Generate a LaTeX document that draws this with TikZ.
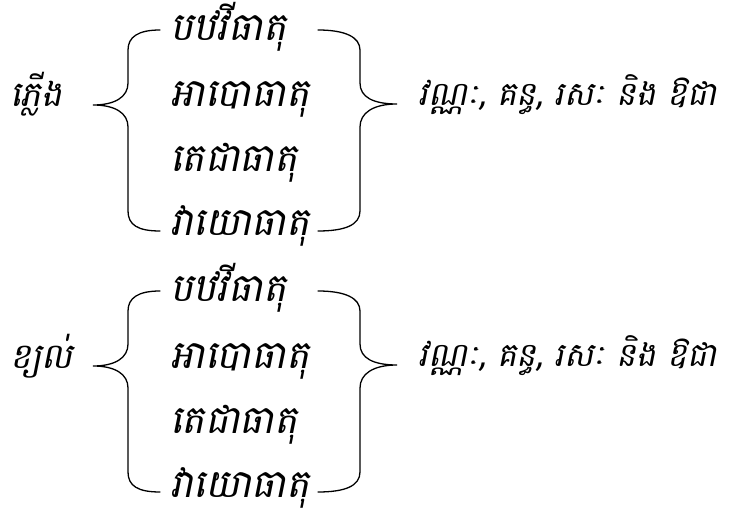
\documentclass[tikz,border=0pt]{standalone}
\usepackage{fontspec}
\newfontfamily\khmerfont[Script=Khmer,FakeSlant=0.2]{Battambang}
\usetikzlibrary{calc}

\begin{document}
\begin{tikzpicture}[x=1pt,y=1pt,font=\khmerfont\fontsize{35}{40}\selectfont]
  \tikzset{
    item/.style={inner sep=0pt,anchor=base west},
    element/.style={item,font=\khmerfont\fontsize{39}{44}\selectfont},
    quality/.style={item,font=\khmerfont\fontsize{33}{38}\selectfont},
    brace/.style={line width=1.3pt,line cap=round}
  }
  \useasboundingbox (0,0) rectangle (736,517);

  % one group: #1 = height of the brace tips, #2 = name prefix, #3 = element
  \newcommand{\elementgroup}[3]{%
    \node[item] (#2-lab) at (10,#1-2) {#3};
    \foreach \txt/\k/\dy in {បឋវីធាតុ/1/64,អាបោធាតុ/2/-2,
      តេជាធាតុ/3/-67,វាយោធាតុ/4/-131}{
      \node[element] (#2-\k) at (170,#1+\dy) {\txt};
    }
    \coordinate (#2-ltip) at (93,#1);
    \coordinate (#2-rtip) at (397,#1+1);
    \draw[brace] (160,#1+75) .. controls ++(-22,0) and ++(0,13) ..
      (128,#1+55) -- (128,#1+22) .. controls ++(0,-14) and ++(22,0) .. (#2-ltip)
      .. controls ++(22,0) and ++(0,14) .. (128,#1-22) -- (128,#1-106)
      .. controls ++(0,-14) and ++(-22,0) .. (160,#1-126);
    \draw[brace] (318,#1+75) .. controls ++(27,0) and ++(0,13) ..
      (360,#1+55) -- (360,#1+22) .. controls ++(0,-14) and ++(-24,0) .. (#2-rtip)
      .. controls ++(-24,0) and ++(0,14) .. (360,#1-22) -- (360,#1-106)
      .. controls ++(0,-14) and ++(27,0) .. (318,#1-126);
    \node[quality] (#2-quals) at (418,#1-1) {វណ្ណៈ, គន្ធ, រសៈ និង ឱជា};
  }

  \elementgroup{412}{fire}{ភ្លើង}
  \elementgroup{151}{wind}{ខ្យល់}
\end{tikzpicture}
\end{document}
